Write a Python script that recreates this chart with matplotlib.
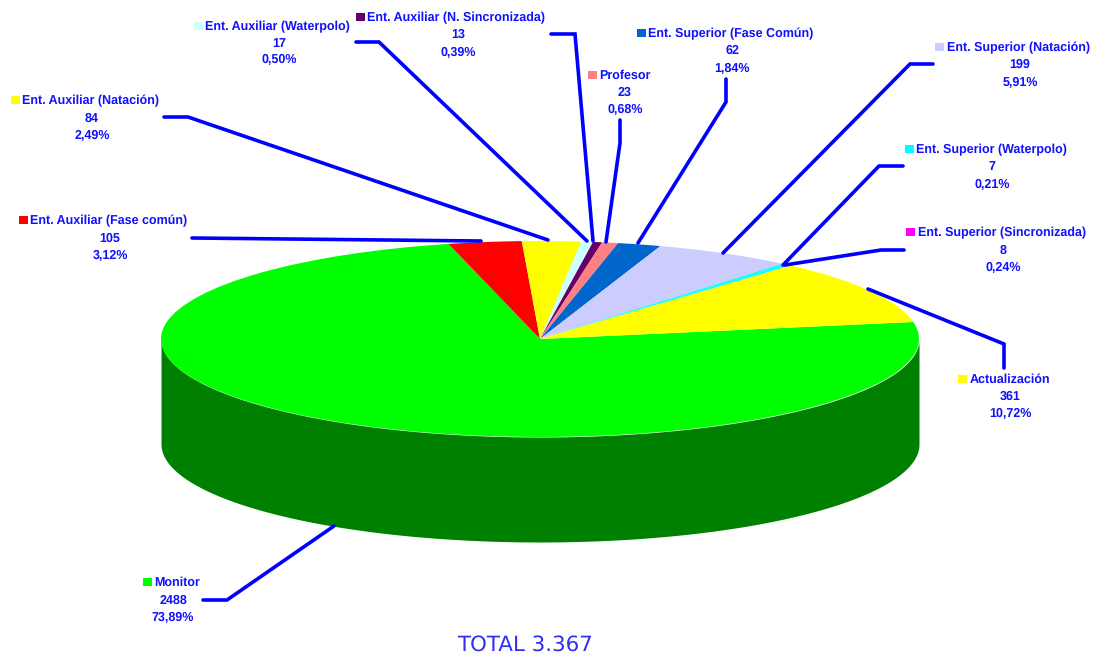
import numpy as np
import matplotlib
matplotlib.use("Agg")
import matplotlib.pyplot as plt
from matplotlib.patches import Rectangle

plt.rcParams["text.hinting"] = "no_hinting"
plt.rcParams["text.hinting_factor"] = 8

# ---- data ----
categories = ["Monitor", "Ent. Auxiliar (Fase común)", "Ent. Auxiliar (Natación)",
              "Ent. Auxiliar (Waterpolo)", "Ent. Auxiliar (N. Sincronizada)", "Profesor",
              "Ent. Superior (Fase Común)", "Ent. Superior (Natación)",
              "Ent. Superior (Waterpolo)", "Ent. Superior (Sincronizada)", "Actualización"]
values = [2488, 105, 84, 17, 13, 23, 62, 199, 7, 8, 361]
percents = ["73,89%", "3,12%", "2,49%", "0,50%", "0,39%", "0,68%",
            "1,84%", "5,91%", "0,21%", "0,24%", "10,72%"]
key_colors = ["#00FF00", "#FF0000", "#FFFF00", "#CCFFFF", "#660066", "#FF8080",
              "#0066CC", "#CCCCFF", "#00FFFF", "#FF00FF", "#FFFF00"]
# in the reference the two thinnest slices read as a single cyan seam
slice_colors = ["#00FF00", "#FF0000", "#FFFF00", "#CCFFFF", "#660066", "#FF8080",
                "#0066CC", "#CCCCFF", "#00FFFF", "#00FFFF", "#FFFF00"]
total_label = "TOTAL 3.367"

# ---- layout (pixels) ----
W, H = 1100, 655
CX, CY, RX, RY, DEPTH = 540, 339, 379, 98, 105
BLUE = "#1010FF"
LINE = "#0000FF"
# square x, first-line text x, first-line y, centre x of the value lines, y2, y3
label_pos = [
    (143, 154, 582, 173, 600, 617),
    (19, 30, 220, 110, 238, 255),
    (11, 22, 100, 92, 118, 135),
    (194, 205, 26, 279, 43, 59),
    (356, 367, 17, 458, 34, 52),
    (588, 599, 75, 625, 91, 109),
    (637, 648, 33, 732, 50, 68),
    (935, 947, 47, 1020, 64, 82),
    (905, 916, 149, 992, 166, 184),
    (906, 918, 232, 1003, 250, 267),
    (958, 970, 379, 1010, 396, 413),
]
leaders = [
    [(203, 600), (227, 600), (334, 526)],
    [(192, 238), (481, 241)],
    [(164, 117), (188, 117), (548, 240)],
    [(356, 42), (379, 42), (587, 241)],
    [(551, 34), (575, 34), (593, 241)],
    [(620, 120), (620, 143), (606, 242)],
    [(726, 79), (726, 102), (638, 243)],
    [(933, 64), (910, 64), (723, 253)],
    [(903, 166), (879, 166), (783, 265)],
    [(904, 250), (881, 250), (785, 265)],
    [(1004, 368), (1004, 344), (868, 289)],
]

fig = plt.figure(figsize=(W / 100, H / 100), dpi=100, facecolor="white")

pw, ph = 2.5 * RX, 2.5 * RY
ax = fig.add_axes([(CX - pw / 2) / W, 1 - (CY + ph / 2) / H, pw / W, ph / H])
ax.pie(values, colors=slice_colors, startangle=10, counterclock=False, radius=1,
       wedgeprops={"linewidth": 0})
ax.set_aspect("auto")
ax.set_xlim(-1.25, 1.25)
ax.set_ylim(-1.25, 1.25)
t = np.linspace(0, np.pi, 400)
xs = np.cos(t)
ax.fill_between(xs, -np.sin(t), -np.sin(t) - DEPTH / RY, color="#008000",
                linewidth=0, zorder=0, clip_on=False)

ov = fig.add_axes([0, 0, 1, 1], facecolor="none")
ov.set_xlim(0, W)
ov.set_ylim(H, 0)
ov.axis("off")

font = dict(family="Liberation Sans", fontweight="bold", fontsize=9.0, color=BLUE,
            va="center")
TEXT_DY = 1.0
for name, val, pct, col, pos, path in zip(categories, values, percents, key_colors,
                                          label_pos, leaders):
    sx, tx, y1, vx, y2, y3 = pos
    ov.add_patch(Rectangle((sx, y1 - 4.5), 8.5, 8.5, facecolor=col, edgecolor="none"))
    ov.text(tx, y1 + TEXT_DY, name, ha="left", **font)
    ov.text(vx, y2 + TEXT_DY, str(val), ha="center", **font)
    ov.text(vx, y3 + TEXT_DY, pct, ha="center", **font)
    px, py = zip(*path)
    ov.plot(px, py, color=LINE, lw=2.6, solid_capstyle="round", solid_joinstyle="miter")

ov.text(524.5, 645, total_label, ha="center", va="center", family="DejaVu Sans",
        fontsize=15.4, color="#3030F5")

fig.savefig("out.png", dpi=100)
